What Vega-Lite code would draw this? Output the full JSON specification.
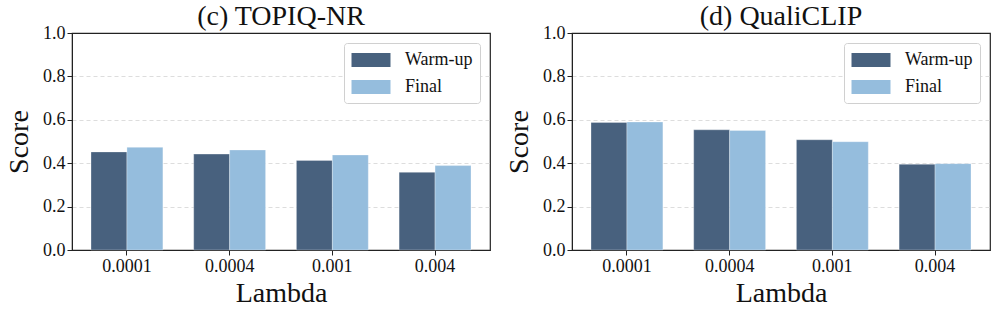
{
  "$schema": "https://vega.github.io/schema/vega-lite/v6.json",
  "padding": {"left": 4, "top": 2, "right": 5, "bottom": 2},
  "spacing": 13,
  "config": {
    "font": "Liberation Serif",
    "view": {"stroke": "#222", "strokeWidth": 1.2},
    "style": {"guide-label": {"font": "Liberation Serif"}, "guide-title": {"font": "Liberation Serif"}},
    "axis": {
      "labelFont": "Liberation Serif", "titleFont": "Liberation Serif",
      "labelFontSize": 18, "titleFontSize": 28, "titleFontWeight": "normal",
      "labelColor": "#111", "titleColor": "#111",
      "tickColor": "#222", "domainColor": "#222", "tickSize": 5, "labelPadding": 2
    },
    "title": {"font": "Liberation Serif", "fontSize": 28, "fontWeight": "normal", "color": "#111", "offset": -7},
    "legend": {
      "orient": "top-right", "offset": 10, "padding": 7,
      "strokeColor": "#d0d0d0", "cornerRadius": 3, "fillColor": "white",
      "labelFont": "Liberation Serif", "labelFontSize": 18, "labelColor": "#111",
      "symbolType": "M-2,-0.718H2V0.718H-2Z", "symbolSize": 380, "symbolStrokeWidth": 0, "symbolOpacity": 1,
      "symbolOffset": 10, "labelOffset": 24, "rowPadding": 8
    }
  },
  "datasets": {
    "scores": [
      {"panel": "TOPIQ", "lambda": "0.0001", "series": "Warm-up", "score": 0.452},
      {"panel": "TOPIQ", "lambda": "0.0001", "series": "Final", "score": 0.473},
      {"panel": "TOPIQ", "lambda": "0.0004", "series": "Warm-up", "score": 0.442},
      {"panel": "TOPIQ", "lambda": "0.0004", "series": "Final", "score": 0.461},
      {"panel": "TOPIQ", "lambda": "0.001", "series": "Warm-up", "score": 0.413},
      {"panel": "TOPIQ", "lambda": "0.001", "series": "Final", "score": 0.438},
      {"panel": "TOPIQ", "lambda": "0.004", "series": "Warm-up", "score": 0.358},
      {"panel": "TOPIQ", "lambda": "0.004", "series": "Final", "score": 0.389},
      {"panel": "QualiCLIP", "lambda": "0.0001", "series": "Warm-up", "score": 0.588},
      {"panel": "QualiCLIP", "lambda": "0.0001", "series": "Final", "score": 0.590},
      {"panel": "QualiCLIP", "lambda": "0.0004", "series": "Warm-up", "score": 0.554},
      {"panel": "QualiCLIP", "lambda": "0.0004", "series": "Final", "score": 0.551},
      {"panel": "QualiCLIP", "lambda": "0.001", "series": "Warm-up", "score": 0.508},
      {"panel": "QualiCLIP", "lambda": "0.001", "series": "Final", "score": 0.499},
      {"panel": "QualiCLIP", "lambda": "0.004", "series": "Warm-up", "score": 0.395},
      {"panel": "QualiCLIP", "lambda": "0.004", "series": "Final", "score": 0.398}
    ]
  },
  "resolve": {"legend": {"color": "independent"}},
  "hconcat": [
    {
      "title": "(c) TOPIQ-NR",
      "width": 418, "height": 217,
      "data": {"name": "scores"},
      "transform": [{"filter": "datum.panel === 'TOPIQ'"}],
      "mark": {"type": "bar", "stroke": "white", "strokeWidth": 0.6, "strokeOpacity": 0.5},
      "encoding": {
        "x": {"field": "lambda", "type": "nominal", "sort": ["0.0001", "0.0004", "0.001", "0.004"],
              "scale": {"paddingInner": 0.3, "paddingOuter": 0.185},
              "axis": {"labelAngle": 0, "title": "Lambda", "titlePadding": 4}},
        "xOffset": {"field": "series", "type": "nominal", "sort": ["Warm-up", "Final"], "scale": {"paddingInner": 0, "paddingOuter": 0}},
        "y": {"field": "score", "type": "quantitative", "scale": {"domain": [0, 1], "nice": false},
              "axis": {"values": [0, 0.2, 0.4, 0.6, 0.8, 1.0], "format": ".1f", "title": "Score", "titlePadding": 9,
                       "grid": true, "gridDash": [4, 3], "gridColor": "#dddddd",
                       "gridOpacity": {"condition": {"test": "datum.value <= 0 || datum.value >= 1", "value": 0}, "value": 1}}},
        "color": {"field": "series", "type": "nominal", "sort": ["Warm-up", "Final"],
                  "scale": {"domain": ["Warm-up", "Final"], "range": ["#48617e", "#95bddd"]},
                  "legend": {"title": null}}
      }
    },
    {
      "title": "(d) QualiCLIP",
      "width": 418, "height": 217,
      "data": {"name": "scores"},
      "transform": [{"filter": "datum.panel === 'QualiCLIP'"}],
      "mark": {"type": "bar", "stroke": "white", "strokeWidth": 0.6, "strokeOpacity": 0.5},
      "encoding": {
        "x": {"field": "lambda", "type": "nominal", "sort": ["0.0001", "0.0004", "0.001", "0.004"],
              "scale": {"paddingInner": 0.3, "paddingOuter": 0.185},
              "axis": {"labelAngle": 0, "title": "Lambda", "titlePadding": 4}},
        "xOffset": {"field": "series", "type": "nominal", "sort": ["Warm-up", "Final"], "scale": {"paddingInner": 0, "paddingOuter": 0}},
        "y": {"field": "score", "type": "quantitative", "scale": {"domain": [0, 1], "nice": false},
              "axis": {"values": [0, 0.2, 0.4, 0.6, 0.8, 1.0], "format": ".1f", "title": "Score", "titlePadding": 9,
                       "grid": true, "gridDash": [4, 3], "gridColor": "#dddddd",
                       "gridOpacity": {"condition": {"test": "datum.value <= 0 || datum.value >= 1", "value": 0}, "value": 1}}},
        "color": {"field": "series", "type": "nominal", "sort": ["Warm-up", "Final"],
                  "scale": {"domain": ["Warm-up", "Final"], "range": ["#48617e", "#95bddd"]},
                  "legend": {"title": null}}
      }
    }
  ]
}
